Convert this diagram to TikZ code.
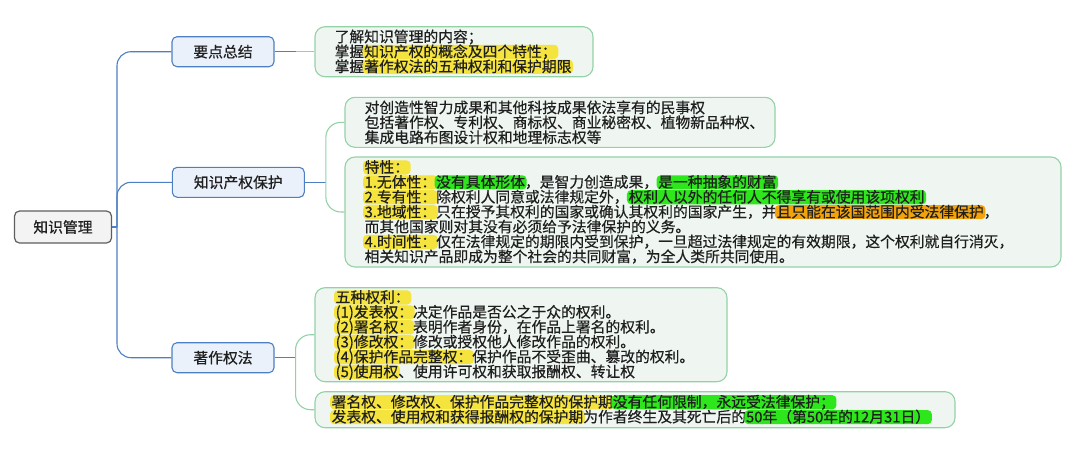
\documentclass[tikz,border=0pt]{standalone}
\usepackage{fontspec}
\setmainfont{Noto Sans CJK SC}
\newfontfamily\cjk[FakeBold=0.5]{Noto Sans CJK SC}
\usetikzlibrary{positioning}

\definecolor{txtdark}{HTML}{1F1F1F}
\definecolor{rootfill}{HTML}{F3F3F3}
\definecolor{rootline}{HTML}{5E5E5E}
\definecolor{topicfill}{HTML}{EAF1FA}
\definecolor{topicline}{HTML}{4D80C2}
\definecolor{leaffill}{HTML}{EFF6F1}
\definecolor{leafline}{HTML}{93D2A6}
\definecolor{hlyellow}{HTML}{F5E33E}
\definecolor{hlgreen}{HTML}{2EE61C}
\definecolor{hlorange}{HTML}{F2A30C}

\tikzset{
  rootbox/.style={draw=rootline, fill=rootfill, line width=1.2pt, rounded corners=5pt,
    minimum width=97pt, minimum height=32pt, inner sep=0pt},
  topicbox/.style={draw=topicline, fill=topicfill, line width=1.1pt, rounded corners=5pt,
    minimum height=30pt, inner sep=0pt},
  leafbox/.style={draw=leafline, fill=leaffill, line width=1.1pt, rounded corners=10pt, inner sep=0pt},
  leaftext/.style={align=left, inner sep=0pt},
  hlpill/.style={inner xsep=1.6pt, inner ysep=0pt, rounded corners=4pt, text height=12.2pt, text depth=1.9pt},
  blueline/.style={draw=topicline, line width=1.1pt},
  greenline/.style={draw=leafline, line width=1.1pt},
}
\newcommand{\mapfont}{\cjk\fontsize{14.8}{14.9}\selectfont\lineskiplimit=-10pt\color{txtdark}}
\newcommand{\hlpart}[2]{\kern-1.6pt\tikz[baseline=(hl.base)]\node[hlpill,fill=#1](hl){#2};\kern-1.6pt}
\newcommand{\hly}[1]{\hlpart{hlyellow}{#1}}
\newcommand{\hlg}[1]{\hlpart{hlgreen}{#1}}
\newcommand{\hlo}[1]{\hlpart{hlorange}{#1}}

\begin{document}
\begin{tikzpicture}[x=1pt, y=-1pt, font=\mapfont]
    \path[use as bounding box, fill=white] (0,0) rectangle (1086,463);

    % 中心主题
    \node[rootbox] (root) at (63,227) {知识管理};

    % 分支主题
    \node[topicbox, minimum width=102pt] (goal) at (223,51.7) {要点总结};
    \node[topicbox, minimum width=132pt] (ip) at (238.3,182.3) {知识产权保护};
    \node[topicbox, minimum width=102pt] (cr) at (223,357.7) {著作权法};

    % 子主题框
    \node[leafbox, minimum width=278pt, minimum height=50pt] (goalbox) at (454,51.7) {};
    \node[leafbox, minimum width=430pt, minimum height=50pt] (ipdef) at (560,122.3) {};
    \node[leafbox, minimum width=716pt, minimum height=110pt] (ipfeat) at (703,212) {};
    \node[leafbox, minimum width=412pt, minimum height=94pt] (crright) at (521,334.7) {};
    \node[leafbox, minimum width=640pt, minimum height=36pt] (crterm) at (635,409.7) {};

    % 子主题文字
    \node[leaftext, right=20pt of goalbox.west] (goaltxt) {了解知识管理的内容；\\
        掌握\hly{知识产权的概念及四个特性；}\\
        掌握\hly{著作权法的五种权利和保护期限}};
    \node[leaftext, right=20pt of ipdef.west] (ipdeftxt) {对创造性智力成果和其他科技成果依法享有的民事权\\
        包括著作权、专利权、商标权、商业秘密权、植物新品种权、\\
        集成电路布图设计权和地理标志权等};
    \node[leaftext, right=20pt of ipfeat.west] (ipfeattxt) {\hly{特性：}\\
        \hly{1.无体性：}\hlg{没有具体形体}，是智力创造成果，\hlg{是一种抽象的财富}\\
        \hly{2.专有性：}除权利人同意或法律规定外，\hlg{权利人以外的任何人不得享有或使用该项权利}\\
        \hly{3.地域性：}只在授予其权利的国家或确认其权利的国家产生，并\hlo{且只能在该国范围内受法律保护}，\\
        而其他国家则对其没有必须给予法律保护的义务。\\
        \hly{4.时间性：}仅在法律规定的期限内受到保护，一旦超过法律规定的有效期限，这个权利就自行消灭，\\
        相关知识产品即成为整个社会的共同财富，为全人类所共同使用。};
    \node[leaftext, right=21pt of crright.west] (crrighttxt) {\hly{五种权利：}\\
        \hly{(1)发表权：}决定作品是否公之于众的权利。\\
        \hly{(2)署名权：}表明作者身份，在作品上署名的权利。\\
        \hly{(3)修改权：}修改或授权他人修改作品的权利。\\
        \hly{(4)保护作品完整权：}保护作品不受歪曲、篡改的权利。\\
        \hly{(5)使用权}、使用许可权和获取报酬权、转让权};
    \node[leaftext, right=17pt of crterm.west] (crtermtxt) {\hly{署名权、修改权、保护作品完整权的保护期}\hlg{没有任何限制，永远受法律保护；}\\
        \hly{发表权、使用权和获得报酬权的保护期}为作者终生及其死亡后的\hlg{50年（第50年的12月31日）}};

    % 中心主题到分支的连线
    \coordinate (trunk) at (117,227);
    \draw[blueline] (root.east) -- (trunk);
    \foreach \t in {goal, ip, cr}
        \draw[blueline, rounded corners=14pt] (trunk) |- (\t.west);

    % 分支到子主题的连线
    \coordinate (goalfork) at ([xshift=21pt]goal.east);
    \coordinate (ipfork) at ([xshift=21pt]ip.east);
    \coordinate (crfork) at ([xshift=21pt]cr.east);
    \draw[blueline] (goal.east) -- (goalfork);
    \draw[greenline] (goalfork) -- (goalbox.west);
    \draw[blueline] (ip.east) -- (ipfork);
    \draw[greenline, rounded corners=15pt] (ipfork) |- (ipdef.west) (ipfork) |- (ipfeat.west);
    \draw[blueline] (cr.east) -- (crfork);
    \draw[greenline, rounded corners=15pt] (crfork) |- (crright.west) (crfork) |- (crterm.west);
\end{tikzpicture}
\end{document}
